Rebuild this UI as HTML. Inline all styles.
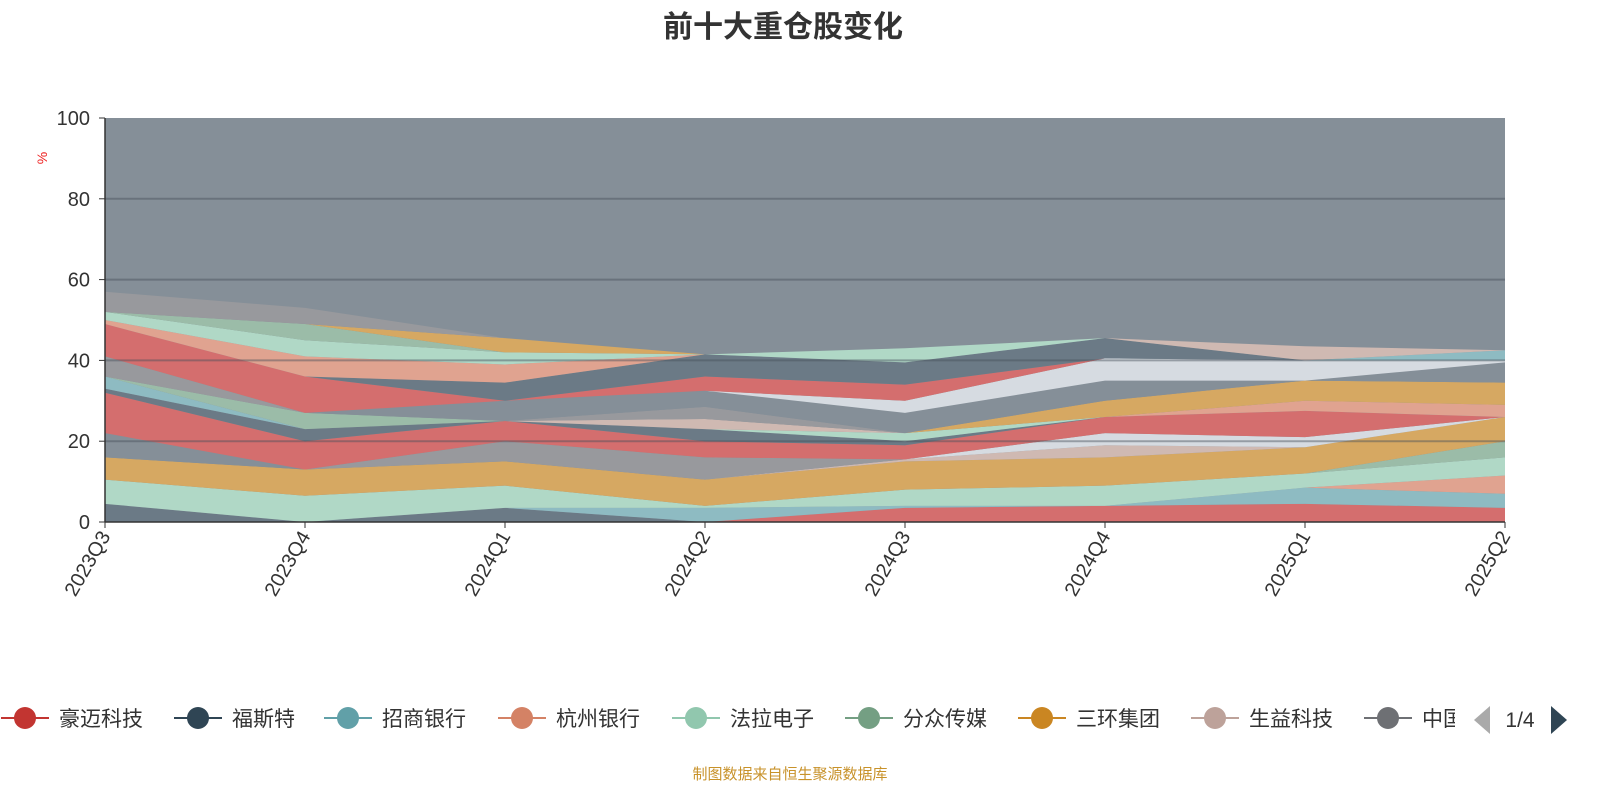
<!DOCTYPE html>
<html><head><meta charset="utf-8"><style>
body{margin:0;background:#fff;font-family:"Liberation Sans","Noto Sans CJK SC",sans-serif;}
svg text{font-family:"Liberation Sans","Noto Sans CJK SC",sans-serif;}
</style></head><body>
<svg id="chart" width="1600" height="800" xmlns="http://www.w3.org/2000/svg">
<text x="783" y="37" text-anchor="middle" font-size="30" font-weight="bold" fill="#333">前十大重仓股变化</text>
<text transform="translate(47,158) rotate(-90)" text-anchor="middle" font-size="14" fill="#e22">%</text>
<g id="areas"></g>
<g id="grid"></g>
<g id="axes"></g>
<g id="legend"></g>
<text x="790" y="779" text-anchor="middle" font-size="15" fill="#c8922a">制图数据来自恒生聚源数据库</text>
</svg>
<script>
const categories=["2023Q3","2023Q4","2024Q1","2024Q2","2024Q3","2024Q4","2025Q1","2025Q2"];
const yTicks=[0,20,40,60,80,100];
const legendNames=["豪迈科技","福斯特","招商银行","杭州银行","法拉电子","分众传媒","三环集团","生益科技","中国"];
const legendColors=["#c23531","#2f4554","#61a0a8","#d48265","#91c7ae","#749f83","#ca8622","#bda29a","#6e7074"];
const layerColors=["#d46e6e","#6b7a86","#8ebbc2","#e0a390","#b0d8c6","#9bbca8","#d6a862","#cfb9b2","#d6dbe1","#98999d","#858f98","#d46e6e","#e0a390","#6b7a86","#8ebbc2","#b0d8c6","#9bbca8","#cfb9b2","#98999d","#d6a862","#858f98","#d6dbe1","#d46e6e","#6b7a86","#e0a390","#b0d8c6","#8ebbc2","#9bbca8","#d6a862","#cfb9b2","#98999d"];
const s1=[0,0,0,0,3.5,4,4.5,3.5];
const s2=[4.5,0,3.5,0,0,0,0,0];
const s3=[0,0,0,3.5,0.5,0,4,3.5];
const s4=[0,0,0,0,0,0,0,4.5];
const s5=[6,6.5,5.5,0.5,4,5,3.5,4.5];
const s6=[0,0,0,0,0,0,0,4];
const s7=[5.5,6.5,6,6.5,7,7,6.5,6];
const s8=[0,0,0,0,0.5,3,0,0];
const s9=[0,0,0,0,0,3,2.5,0];
const s10=[0,0,5,5.5,0,0,0,0];
const s11=[6,0,0,0,0,0,0,0];
const s12=[10,7,5,4,3.5,4,6.5,0];
const s13=[0,0,0,0,0,0,2.5,3];
const s14=[1,3,0,3,1,0,0,0];
const s15=[3,0,0,0,0,0,0,0];
const s16=[0,0,0,0,2,0,0,0];
const s17=[0,4,0,0,0,0,0,0];
const s18=[0,0,0,2.5,0,0,0,0];
const s19=[5,0,0,3,0,0,0,0];
const s20=[0,0,0,0,0,4,5,5.5];
const s21=[0,0,5,4,5,5,0,5];
const s22=[0,0,0,0,3,5.5,5,0.5];
const s23=[8,9,0,3.5,4,0,0,0];
const s24=[0,0,4.5,5.5,5.5,5,0,0];
const s25=[1,5,4.5,0,0,0,0,0];
const s26=[2,4,3,0,3.5,0,0,0];
const s27=[0,0,0,0,0,0,0,2.5];
const s28=[0,4,0,0,0,0,0,0];
const s29=[0,0,3.5,0,0,0,0,0];
const s30=[0,0,0,0,0,0,3.5,0];
const s31=[5,4,0,0,0,0,0,0];
const series=[s1,s2,s3,s4,s5,s6,s7,s8,s9,s10,s11,s12,s13,s14,s15,s16,s17,s18,s19,s20,s21,s22,s23,s24,s25,s26,s27,s28,s29,s30,s31];
const NS="http://www.w3.org/2000/svg";
const X0=105,X1=1505,Y0=522,Y1=118;
const xs=i=>X0+i*(X1-X0)/(categories.length-1);
const ys=v=>Y0-v*(Y0-Y1)/100;
function mk(t,a,p){const e=document.createElementNS(NS,t);for(const k in a)e.setAttribute(k,a[k]);p.appendChild(e);return e;}
const areas=document.getElementById('areas');
// top remainder background
let cum=categories.map(()=>0);
const bg=mk('rect',{x:X0,y:Y1,width:X1-X0,height:Y0-Y1,fill:'#858f98'},areas);


series.forEach((s,k)=>{
  const top=cum.map((c,i)=>c+s[i]);
  let d='M'+top.map((v,i)=>xs(i)+','+ys(v)).join('L');
  for(let i=categories.length-1;i>=0;i--)d+='L'+xs(i)+','+ys(cum[i]);
  const p=mk('path',{d:d+'Z',fill:layerColors[k%layerColors.length]},areas);
  
  
  cum=top;
});
const grid=document.getElementById('grid'),axes=document.getElementById('axes');
yTicks.forEach(v=>{
  if(v>0&&v<100){const l=mk('line',{x1:X0,x2:X1,y1:ys(v),y2:ys(v),stroke:'rgba(70,80,90,0.45)','stroke-width':2},grid);
  
  }
  const t=mk('text',{x:X0-15,y:ys(v)+7,'text-anchor':'end','font-size':20,fill:'#333'},axes);
  t.textContent=v;
  
  
  mk('line',{x1:X0-6,x2:X0,y1:ys(v),y2:ys(v),stroke:'#333'},axes);
});
mk('line',{x1:X0,x2:X0,y1:Y1,y2:Y0,stroke:'#333','stroke-width':1.5},axes);
mk('line',{x1:X0,x2:X1,y1:Y0,y2:Y0,stroke:'#333','stroke-width':1.5},axes);
categories.forEach((c,i)=>{
  mk('line',{x1:xs(i),x2:xs(i),y1:Y0,y2:Y0+6,stroke:'#333'},axes);
  const t=mk('text',{transform:`translate(${xs(i)+6},${Y0+14}) rotate(-60)`,'text-anchor':'end','font-size':20,fill:'#333'},axes);
  t.textContent=c;
  
  
});
const lg=document.getElementById('legend');
const lx=[25,198,348,522,696,869,1042,1215,1388];
legendNames.forEach((n,i)=>{
  const g=mk('g',{},lg);
  
  
  mk('line',{x1:lx[i]-24,x2:lx[i]+24,y1:718,y2:718,stroke:legendColors[i],'stroke-width':2},g);
  mk('circle',{cx:lx[i],cy:718,r:11,fill:legendColors[i]},g);
  const t=mk('text',{x:lx[i]+34,y:726,'font-size':21,fill:'#333'},g);
  t.textContent=i==8?'中国':n;
});
mk('rect',{x:1455,y:700,width:15,height:40,fill:'#fff'},lg);
const pl=mk('path',{d:'M1490,706L1490,734L1474,720Z',fill:'#aaa'},lg);


const pt=mk('text',{x:1520,y:727,'text-anchor':'middle','font-size':21,fill:'#333'},lg);
pt.textContent='1/4';


const pr=mk('path',{d:'M1551,706L1551,734L1567,720Z',fill:'#2f4554'},lg);


</script>
</body></html>
